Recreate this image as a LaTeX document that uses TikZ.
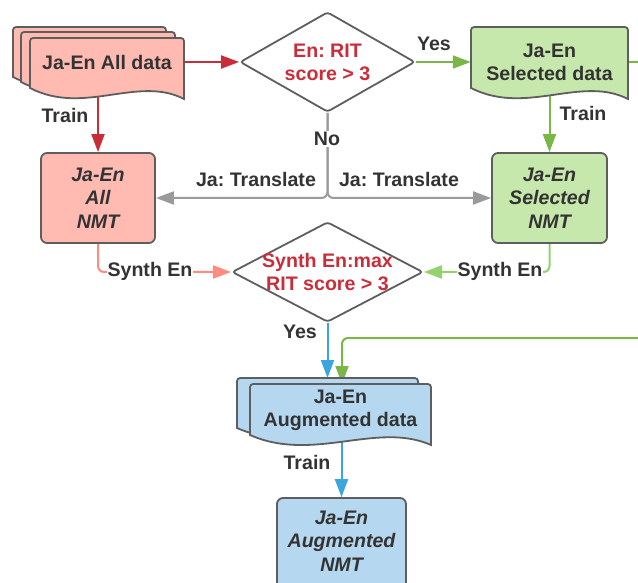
\documentclass[tikz,border=0pt]{standalone}
\usepackage{fontspec}
\setmainfont{Liberation Sans}
\usetikzlibrary{shapes.geometric,arrows.meta}
\definecolor{salmon}{HTML}{FFBBB1}
\definecolor{redc}{HTML}{C92D39}
\definecolor{salline}{HTML}{FF8C7F}
\definecolor{greenfill}{HTML}{C7E8AC}
\definecolor{greenc}{HTML}{7AB648}
\definecolor{lgreenc}{HTML}{94D16C}
\definecolor{bluefill}{HTML}{B5D7EF}
\definecolor{bluec}{HTML}{3AA6DD}
\definecolor{grayc}{HTML}{9A9A9A}
\definecolor{bordc}{HTML}{5E5E5E}
\definecolor{textc}{HTML}{333333}
\pgfdeclarelayer{bg}
\pgfsetlayers{bg,main}
\frenchspacing
\newcommand\docshape[6]{%
  \pgfmathsetmacro\dxa{#3-0.3*(#3-#1)}%
  \pgfmathsetmacro\dxb{#1+0.35*(#3-#1)}%
  \pgfmathsetmacro\dya{#5-24}%
  \pgfmathsetmacro\dyb{#4+28}%
  \filldraw[border, fill=#6] (#1,#4) -- (#1,#2+7) .. controls (#1,#2) .. (#1+7,#2)
    -- (#3-7,#2) .. controls (#3,#2) .. (#3,#2+7) -- (#3,#5)
    .. controls (\dxa,\dya) and (\dxb,\dyb) .. (#1,#4) -- cycle;}
\begin{document}
\begin{tikzpicture}[x=1pt,y=-1pt,
  font=\bfseries\fontsize{19.6}{23}\selectfont,
  border/.style={draw=bordc, line width=1.8pt},
  txt/.style={text=textc, align=center, inner sep=0pt},
  lbl/.style={text=textc, inner sep=1pt},
  box/.style={border, rounded corners=6pt, inner sep=0pt},
  boxtxt/.style={text=textc, align=center, inner sep=0pt,
    font=\bfseries\itshape\fontsize{19.6}{23.5}\selectfont},
  dia/.style={diamond, border, fill=white, rounded corners=3pt, inner sep=0pt},
  conn/.style={line width=2pt, rounded corners=6pt, -{Triangle[length=18pt,width=13pt]}}
]
\useasboundingbox (0,0) rectangle (638,583);

% documents
\docshape{13}{27}{166}{77}{88}{salmon}
\docshape{21}{32}{175}{82}{93}{salmon}
\docshape{30}{38}{184}{88}{99}{salmon}
\docshape{471}{27}{628}{88}{99}{greenfill}
\docshape{237}{378}{418}{428}{438}{bluefill}
\docshape{250}{384}{431}{435}{445}{bluefill}

\node[txt, minimum width=154pt, minimum height=48pt] (alldata) at (107,62) {Ja-En All data};
\node[txt, minimum width=157pt, minimum height=48pt] (seldata) at (549.5,62) {Ja-En\\Selected data};
\node[txt, minimum width=181pt, minimum height=51pt] (augdata) at (340.5,410) {Ja-En\\Augmented data};
\coordinate (augback) at (327.5,378);
\coordinate (augfront) at (342,384);

% boxes
\node[box, fill=salmon, minimum width=114pt, minimum height=90pt] (allnmt) at (98,198) {};
\node[boxtxt] (allnmtt) at (allnmt) {Ja-En\\All\\NMT};
\node[box, fill=greenfill, minimum width=115pt, minimum height=90pt] (selnmt) at (549.5,198) {};
\node[boxtxt] (selnmtt) at (selnmt) {Ja-En\\Selected\\NMT};
\node[box, fill=bluefill, minimum width=129pt, minimum height=100pt] (augnmt) at (341.5,548) {};
\node[boxtxt] (augnmtt) at (341.5,541) {Ja-En\\Augmented\\NMT};

% decisions
\node[dia, minimum width=175pt, minimum height=100pt] (d1) at (327.5,62) {};
\node[txt, text=redc] (d1t) at (d1) {En: RIT\\score > 3};
\node[dia, minimum width=191pt, minimum height=100pt] (d2) at (327.5,272) {};
\node[txt, text=redc] (d2t) at (d2) {Synth En:max\\RIT score > 3};

% connectors
\begin{pgfonlayer}{bg}
\draw[conn, redc] (alldata.east) -- (d1.west);
\draw[conn, redc] (alldata.south -| allnmt.north) -- (allnmt.north);
\draw[conn, greenc] (d1.east) -- (seldata.west);
\draw[conn, greenc] (seldata.south -| selnmt.north) -- (selnmt.north);
\draw[conn, greenc] (seldata.east) -- (670,62) -- (670,338) -- (augfront |- 0,338) -- (augfront);
\draw[conn, grayc] (d1.south) |- (allnmt.east);
\draw[conn, grayc] (d1.south) |- (selnmt.west);
\draw[conn, salline] (allnmt.south) |- (d2.west);
\draw[conn, lgreenc] (selnmt.south) |- (d2.east);
\draw[conn, bluec] (d2.south) -- (augback);
\draw[conn, bluec] (augdata.south -| augnmt.north) -- (augnmt.north);
\end{pgfonlayer}

% labels
\node[lbl] (yes1) at (434,44) {Yes};
\node[lbl] (train1) at (65,115) {Train};
\node[lbl] (train2) at (583,113) {Train};
\node[lbl, fill=white] (no) at (327,139) {No};
\node[lbl] (jat1) at (256,179) {Ja: Translate};
\node[lbl] (jat2) at (399,179) {Ja: Translate};
\node[lbl, fill=white] (syn1) at (150,271) {Synth En};
\node[lbl, fill=white] (syn2) at (500,271) {Synth En};
\node[lbl] (yes2) at (300,332) {Yes};
\node[lbl] (train3) at (307,462) {Train};
\end{tikzpicture}
\end{document}
